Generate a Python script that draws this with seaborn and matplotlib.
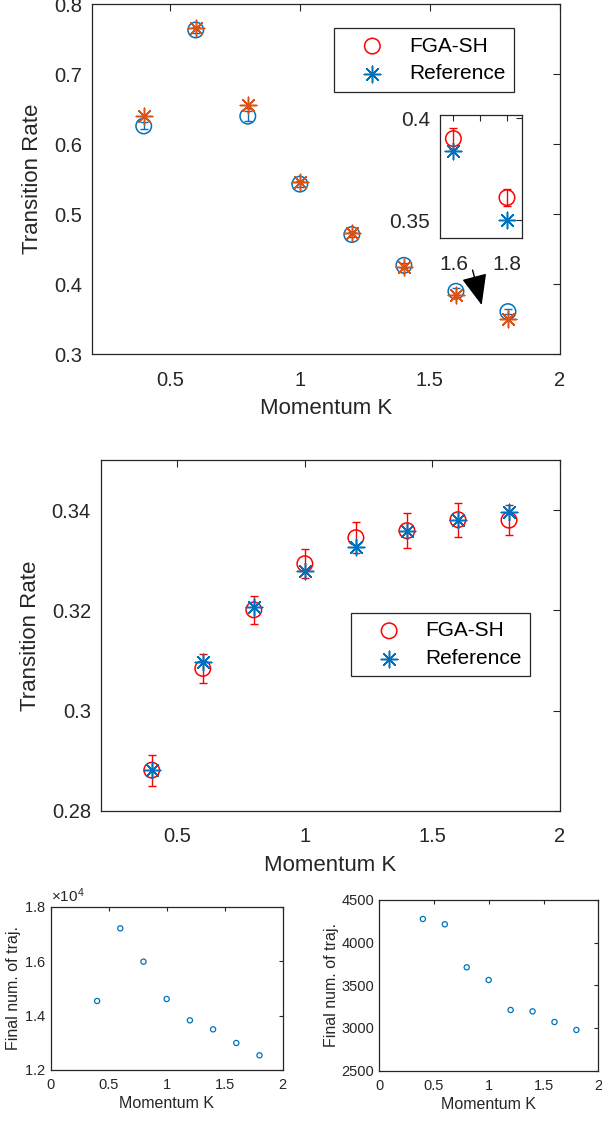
import numpy as np
import matplotlib
matplotlib.use("Agg")
import matplotlib.pyplot as plt
import seaborn as sns

# -------- data --------
momentum = [0.4, 0.6, 0.8, 1.0, 1.2, 1.4, 1.6, 1.8]

# panel 1
rate1_fga = [0.626, 0.763, 0.640, 0.543, 0.471, 0.427, 0.390, 0.361]
rate1_fga_err = [0.005, 0.004, 0.007, 0.004, 0.004, 0.004, 0.005, 0.004]
rate1_ref = [0.640, 0.766, 0.656, 0.546, 0.473, 0.424, 0.384, 0.350]

# panel 2
rate2_fga = [0.2881, 0.3084, 0.3201, 0.3293, 0.3345, 0.3359, 0.3381, 0.3380]
rate2_fga_err = [0.0031, 0.0029, 0.0028, 0.0029, 0.0031, 0.0035, 0.0034, 0.0030]
rate2_ref = [0.2881, 0.3096, 0.3207, 0.3278, 0.3326, 0.3359, 0.3381, 0.3397]

# final number of trajectories
ntraj_1 = [14535, 17204, 15980, 14608, 13824, 13494, 12992, 12539]
ntraj_2 = [4277, 4215, 3711, 3562, 3211, 3195, 3070, 2977]

# ticks
k_ticks = [0.5, 1.0, 1.5, 2.0]
k_ticklabels = ["0.5", "1", "1.5", "2"]
k_ticks_small = [0.0, 0.5, 1.0, 1.5, 2.0]
k_ticklabels_small = ["0", "0.5", "1", "1.5", "2"]
rate1_ticks = [0.3, 0.4, 0.5, 0.6, 0.7, 0.8]
rate1_ticklabels = ["0.3", "0.4", "0.5", "0.6", "0.7", "0.8"]
inset_xticks = [1.6, 1.7, 1.8]
inset_xticklabels = ["1.6", "", "1.8"]
inset_yticks = [0.35, 0.40]
inset_yticklabels = ["0.35", "0.4"]
rate2_ticks = [0.28, 0.30, 0.32, 0.34]
rate2_ticklabels = ["0.28", "0.3", "0.32", "0.34"]
ntraj1_ticks = [12000, 14000, 16000, 18000]
ntraj2_ticks = [2500, 3000, 3500, 4000, 4500]
ntraj2_ticklabels = ["2500", "3000", "3500", "4000", "4500"]

# -------- style --------
sns.set_theme(style="white")
plt.rcParams["font.family"] = ["Liberation Sans", "DejaVu Sans"]
plt.rcParams["mathtext.fontset"] = "custom"
plt.rcParams["mathtext.rm"] = "Liberation Sans"

BLUE = "#0072BD"
ORANGE = "#D95319"
RED = "#FF0000"
DARK = "#262626"
STAR = (8, 2, 0)


def style_axes(ax, tsize, tlen, xpad, ypad):
    ax.tick_params(direction="in", top=True, right=True, length=tlen, width=0.8,
                   colors=DARK, labelsize=tsize)
    ax.tick_params(axis="x", pad=xpad)
    ax.tick_params(axis="y", pad=ypad)
    for sp in ax.spines.values():
        sp.set_edgecolor(DARK)
        sp.set_linewidth(0.9)


def fga_and_ref(ax, y_fga, err, y_ref, c_fga, c_ref, s_o=125, s_star=140):
    ax.errorbar(momentum, y_fga, yerr=err, fmt="none", ecolor=c_fga,
                elinewidth=1, capsize=3, capthick=1, zorder=2)
    sns.scatterplot(x=momentum, y=y_fga, marker="o", s=s_o, color=c_fga,
                    facecolor="none", edgecolor=c_fga, linewidth=1.1,
                    label="FGA-SH", legend=False, ax=ax, zorder=3)
    sns.scatterplot(x=momentum, y=y_ref, marker=STAR, s=s_star, color=c_ref,
                    linewidth=1.1, label="Reference", legend=False, ax=ax, zorder=4)


def matlab_legend(ax, handles, labels, anchor):
    leg = ax.legend(handles, labels, loc="upper left", bbox_to_anchor=anchor,
                    borderaxespad=0, fontsize=15, frameon=True, fancybox=False,
                    framealpha=1, edgecolor=DARK, borderpad=0.4,
                    handlelength=2.9, handletextpad=0.3, labelspacing=0.42)
    leg.get_frame().set_linewidth(0.9)
    for t in leg.get_texts():
        t.set_color("black")


fig = plt.figure(figsize=(6.02, 11.21), dpi=100)

# -------- 1. top panel --------
ax1 = fig.add_axes([0.1523, 0.6839, 0.7779, 0.3125])
fga_and_ref(ax1, rate1_fga, rate1_fga_err, rate1_ref, BLUE, ORANGE)
ax1.set_xlim(0.2, 2.0)
ax1.set_ylim(0.3, 0.8)
ax1.set_xticks(k_ticks, labels=k_ticklabels)
ax1.set_yticks(rate1_ticks, labels=rate1_ticklabels)
style_axes(ax1, 14.5, 5, 12, 7)
ax1.set_xlabel("Momentum K", fontsize=16, color=DARK, labelpad=6)
ax1.set_ylabel("Transition Rate", fontsize=16, color=DARK, labelpad=8)
ax1.annotate("", xy=(1.699, 0.3704), xytext=(1.664, 0.4203),
             arrowprops=dict(arrowstyle="-|>,head_length=1.2,head_width=0.5",
                             color="black", lw=1, mutation_scale=16,
                             shrinkA=0, shrinkB=0))

# inset zoom on the last two points
axin = fig.add_axes([0.7309, 0.7874, 0.1357, 0.1100])
fga_and_ref(axin, rate1_fga, rate1_fga_err, rate1_ref, RED, BLUE)
axin.set_xlim(1.55, 1.855)
axin.set_ylim(0.341, 0.4016)
axin.set_xticks(inset_xticks, labels=inset_xticklabels)
axin.set_yticks(inset_yticks, labels=inset_yticklabels)
style_axes(axin, 15, 4, 12, 7)

h, l = axin.get_legend_handles_labels()
matlab_legend(ax1, h, l, (0.517, 0.931))

# -------- 2. middle panel --------
ax2 = fig.add_axes([0.1673, 0.2768, 0.7630, 0.3128])
fga_and_ref(ax2, rate2_fga, rate2_fga_err, rate2_ref, RED, BLUE)
ax2.set_xlim(0.2, 2.0)
ax2.set_ylim(0.28, 0.35)
ax2.set_xticks(k_ticks, labels=k_ticklabels)
ax2.set_yticks(rate2_ticks, labels=rate2_ticklabels)
style_axes(ax2, 14.5, 5, 12, 7)
ax2.set_xlabel("Momentum K", fontsize=16, color=DARK, labelpad=6)
ax2.set_ylabel("Transition Rate", fontsize=16, color=DARK, labelpad=8)
h, l = ax2.get_legend_handles_labels()
matlab_legend(ax2, h, l, (0.544, 0.564))

# -------- 3. number of trajectories --------
ax3 = fig.add_axes([0.0842, 0.0455, 0.3854, 0.1457])
sns.scatterplot(x=momentum, y=ntraj_1, marker="o", s=14, color=BLUE,
                facecolor="none", edgecolor=BLUE, linewidth=0.9, ax=ax3)
ax3.set_xlim(0, 2)
ax3.set_ylim(12000, 18000)
ax3.set_xticks(k_ticks_small, labels=k_ticklabels_small)
ax3.set_yticks(ntraj1_ticks)
ax3.ticklabel_format(axis="y", style="sci", scilimits=(4, 4), useMathText=True)
style_axes(ax3, 10.5, 3, 6, 3.5)
ax3.yaxis.get_offset_text().set_fontsize(11)
ax3.yaxis.get_offset_text().set_color(DARK)
ax3.set_xlabel("Momentum K", fontsize=11.5, color=DARK, labelpad=3)
ax3.set_ylabel("Final num. of traj.", fontsize=11.5, color=DARK, labelpad=2)

ax4 = fig.add_axes([0.6296, 0.0449, 0.3643, 0.1523])
sns.scatterplot(x=momentum, y=ntraj_2, marker="o", s=14, color=BLUE,
                facecolor="none", edgecolor=BLUE, linewidth=0.9, ax=ax4)
ax4.set_xlim(0, 2)
ax4.set_ylim(2500, 4500)
ax4.set_xticks(k_ticks_small, labels=k_ticklabels_small)
ax4.set_yticks(ntraj2_ticks, labels=ntraj2_ticklabels)
style_axes(ax4, 10.5, 3, 6, 3.5)
ax4.set_xlabel("Momentum K", fontsize=11.5, color=DARK, labelpad=3)
ax4.set_ylabel("Final num. of traj.", fontsize=11.5, color=DARK, labelpad=2)

fig.savefig("out.png", dpi=100)
